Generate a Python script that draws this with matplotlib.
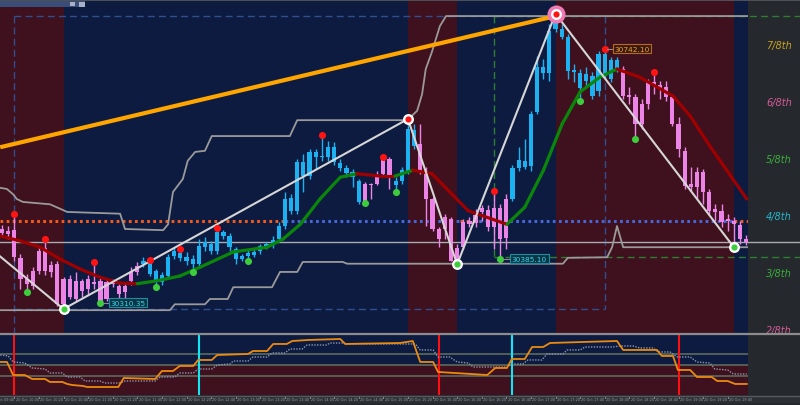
import matplotlib.pyplot as plt
from matplotlib.patches import Rectangle
from matplotlib.lines import Line2D
from matplotlib.transforms import blended_transform_factory

# ---- M5 candles, 20 Oct (bar 0 = 09:50) ----
opens = [30436, 30433, 30434, 30387, 30351, 30365, 30399, 30404, 30375, 30377,
         30351, 30351, 30348, 30348, 30351, 30346, 30348, 30346, 30348, 30339,
         30339, 30363, 30373, 30377, 30360, 30348, 30346, 30356, 30390, 30387,
         30382, 30377, 30377, 30405, 30399, 30399, 30424, 30405, 30385, 30385,
         30390, 30392, 30399, 30407, 30409, 30419, 30441, 30467, 30467, 30526,
         30526, 30558, 30558, 30558, 30550, 30540, 30531, 30524, 30482, 30513,
         30513, 30526, 30555, 30555, 30511, 30518, 30535, 30577, 30581, 30535,
         30487, 30436, 30456, 30453, 30404, 30448, 30450, 30460, 30472, 30468,
         30472, 30472, 30487, 30487, 30540, 30541, 30543, 30635, 30701, 30701,
         30776, 30762, 30705, 30703, 30676, 30688, 30662, 30671, 30696, 30691,
         30708, 30708, 30664, 30660, 30649, 30686, 30686, 30681, 30677, 30660,
         30615, 30569, 30513, 30533, 30533, 30499, 30470, 30467, 30453, 30450,
         30443, 30419]
closes = [30429, 30428, 30388, 30351, 30343, 30339, 30365, 30365, 30363, 30309,
          30309, 30320, 30317, 30331, 30334, 30343, 30314, 30317, 30343, 30326,
          30329, 30348, 30363, 30382, 30380, 30365, 30358, 30388, 30399, 30395,
          30388, 30385, 30407, 30414, 30411, 30431, 30431, 30424, 30402, 30390,
          30395, 30397, 30407, 30411, 30417, 30441, 30487, 30489, 30550, 30550,
          30567, 30567, 30560, 30575, 30575, 30548, 30540, 30533, 30518, 30482,
          30511, 30513, 30530, 30526, 30518, 30536, 30606, 30604, 30535, 30487,
          30436, 30419, 30436, 30382, 30385, 30405, 30444, 30446, 30465, 30439,
          30439, 30419, 30421, 30540, 30553, 30552, 30632, 30711, 30711, 30773,
          30796, 30776, 30762, 30706, 30701, 30700, 30696, 30734, 30734, 30723,
          30723, 30662, 30660, 30615, 30615, 30649, 30681, 30674, 30660, 30615,
          30572, 30509, 30507, 30507, 30499, 30467, 30465, 30448, 30450, 30444,
          30419, 30414]
highs = [30443, 30441, 30462, 30394, 30360, 30371, 30407, 30419, 30382, 30382,
         30354, 30358, 30363, 30351, 30358, 30380, 30354, 30351, 30351, 30344,
         30344, 30371, 30380, 30388, 30383, 30368, 30363, 30394, 30405, 30402,
         30397, 30392, 30419, 30422, 30416, 30438, 30434, 30429, 30405, 30394,
         30402, 30402, 30411, 30414, 30424, 30448, 30499, 30496, 30555, 30564,
         30572, 30572, 30596, 30586, 30584, 30555, 30545, 30538, 30521, 30516,
         30514, 30535, 30558, 30558, 30524, 30541, 30623, 30615, 30615, 30541,
         30490, 30439, 30462, 30456, 30411, 30453, 30456, 30470, 30477, 30477,
         30501, 30479, 30496, 30545, 30575, 30589, 30637, 30730, 30725, 30785,
         30802, 30785, 30768, 30717, 30708, 30711, 30703, 30739, 30742.1, 30728,
         30728, 30713, 30677, 30666, 30657, 30691, 30703, 30688, 30688, 30666,
         30626, 30575, 30541, 30541, 30538, 30504, 30479, 30479, 30462, 30456,
         30450, 30426]
lows = [30422, 30419, 30382, 30334, 30329, 30334, 30360, 30358, 30354, 30305,
        30300, 30317, 30314, 30320, 30324, 30334, 30310.35, 30314, 30337, 30317,
        30317, 30341, 30358, 30371, 30356, 30337, 30341, 30351, 30385, 30382,
        30375, 30363, 30371, 30399, 30394, 30394, 30419, 30399, 30377, 30382,
        30382, 30388, 30394, 30402, 30404, 30414, 30436, 30462, 30462, 30499,
        30521, 30538, 30552, 30552, 30545, 30535, 30524, 30507, 30478, 30480,
        30487, 30511, 30526, 30504, 30499, 30513, 30530, 30572, 30530, 30441,
        30433, 30405, 30419, 30382, 30376, 30402, 30439, 30439, 30450, 30433,
        30402, 30385.1, 30402, 30484, 30535, 30538, 30535, 30632, 30691, 30688,
        30771, 30759, 30691, 30686, 30654, 30677, 30657, 30662, 30691, 30686,
        30703, 30657, 30649, 30589, 30606, 30640, 30666, 30657, 30654, 30611,
        30558, 30504, 30501, 30487, 30478, 30462, 30450, 30439, 30433, 30405,
        30410, 30409]

fractal_up = [2, 7, 15, 24, 29, 35, 52, 62, 80, 98, 106]
fractal_dn = [4, 16, 25, 31, 40, 59, 64, 81, 94, 103]
swing_bars = [10, 66, 74, 90, 119]

# zigzag (bar, price), first point is off-chart
zz_x = [-8, 10, 66, 74, 90, 119]
zz_y = [30456, 30300, 30623, 30376, 30802, 30405]

# moving average knots
ma_x = [-0.3, 2.9, 6.2, 9.4, 12.7, 15.9, 19.2, 22.0, 25.2, 28.9, 32.2, 37.6, 43.1,
        45.7, 48.5, 51.7, 55.0, 57.7, 61.5, 63.9, 66.8, 69.9, 75.8, 82.1, 85.0,
        88.0, 91.1, 94.0, 97.2, 100.0, 103.7, 109.1, 111.9, 115.1, 121.1]
ma_y = [30424, 30416, 30405, 30385, 30368, 30354, 30344, 30343, 30348, 30356, 30371,
        30397, 30405, 30419, 30444, 30487, 30524, 30530, 30526, 30526, 30536, 30530,
        30467, 30444, 30473, 30535, 30615, 30669, 30694, 30708, 30694, 30662, 30628,
        30577, 30487]

# price channel
up_x = [-0.3, 0.8, 1.8, 2.4, 3.4, 7.8, 10.6, 19.2, 20.0, 26.2, 27.0, 27.8, 29.4,
        30.2, 31.4, 33.0, 34.1, 46.8, 48.0, 65.9, 67.5, 68.3, 68.9, 69.9, 71.2,
        72.2, 121.3]
up_y = [30506, 30504, 30495, 30487, 30482, 30478, 30465, 30462, 30436, 30434, 30444,
        30499, 30521, 30552, 30567, 30569, 30594, 30594, 30621, 30621, 30637, 30665,
        30708, 30737, 30781, 30798, 30798]
dn_x = [-0.3, 27.3, 28.1, 33.0, 33.8, 36.7, 37.6, 43.9, 45.2, 48.0, 48.9, 55.4,
        56.1, 91.2, 92.0, 98.4, 99.2, 100.0, 101.0, 121.3]
dn_y = [30298, 30298, 30308, 30308, 30317, 30317, 30337, 30337, 30363, 30363, 30380,
        30380, 30377, 30377, 30387, 30388, 30405, 30441, 30405, 30405]

trend_x = [-0.3, 90]
trend_y = [30575, 30798]

bid = 30414
mid_level = 30450
murrey_names = ['2/8th', '3/8th', '4/8th', '5/8th', '6/8th', '7/8th']
murrey_levels = [30256, 30353, 30450, 30547, 30644, 30741]
murrey_colors = ['#d65c98', '#3cae3c', '#25b6cc', '#3cae3c', '#d65c98', '#c9a227']

# lower oscillator
osc_x = [-0.3, 0.8, 1.8, 3.7, 4.9, 7.0, 7.8, 9.8, 10.6, 11.4, 13.2, 13.8, 18.9,
         19.8, 24.9, 26.0, 27.8, 28.9, 31.1, 31.9, 34.1, 35.0, 40.0, 40.8, 43.1,
         44.1, 46.3, 47.2, 49.8, 55.0, 55.8, 64.7, 66.8, 68.0, 70.1, 70.9, 78.9,
         80.2, 82.1, 82.9, 85.0, 86.2, 88.0, 89.1, 94.5, 100.0, 101.0, 106.5, 107.3,
         109.1, 109.9, 111.9, 113.0, 115.4, 116.3, 118.0, 119.2, 121.1]
osc_y = [55.3, 55.3, 32.5, 32.5, 25.5, 25.5, 20.3, 20.3, 16.8, 15.0, 13.3, 11.5, 11.5,
         27.3, 25.5, 39.5, 39.5, 48.3, 48.3, 58.8, 58.8, 67.5, 69.3, 74.5, 74.5,
         86.8, 86.8, 92.0, 93.8, 95.5, 86.8, 88.5, 92.0, 55.3, 55.3, 37.8, 32.5,
         44.8, 44.8, 60.5, 60.5, 81.5, 81.5, 88.5, 90.3, 92.0, 76.3, 76.3, 65.8,
         65.8, 41.3, 41.3, 29.0, 29.0, 22.0, 22.0, 16.8, 16.8]
sig_x = [-0.3, 1.0, 1.8, 3.7, 4.9, 7.0, 7.8, 9.8, 10.6, 12.7, 13.5, 15.9, 16.7, 19.2,
         20.0, 24.9, 25.7, 28.1, 28.9, 31.1, 31.9, 34.1, 35.0, 37.1, 37.6, 40.0,
         40.8, 43.1, 43.9, 46.0, 46.8, 48.8, 49.6, 52.8, 53.3, 55.4, 56.1, 67.2,
         68.0, 70.1, 70.9, 72.8, 74.0, 75.8, 76.6, 82.1, 82.9, 84.7, 85.5, 87.8,
         88.6, 91.2, 91.9, 94.0, 94.8, 99.3, 100.5, 102.6, 103.7, 105.9, 106.7,
         108.6, 109.8, 111.9, 113.0, 115.1, 115.9, 118.0, 118.9, 121.1]
sig_y = [67.5, 65.8, 55.3, 53.5, 44.8, 43.0, 36.0, 36.0, 29.0, 29.0, 22.0, 22.0, 18.5,
         18.5, 22.0, 22.0, 29.0, 29.0, 36.0, 36.0, 43.0, 43.0, 50.0, 51.8, 57.0,
         57.0, 64.0, 64.0, 71.0, 71.0, 78.0, 78.0, 85.0, 85.0, 88.5, 88.5, 86.8,
         86.8, 76.3, 76.3, 64.0, 64.0, 55.3, 53.5, 46.5, 46.5, 51.8, 51.8, 58.8,
         58.8, 69.3, 69.3, 76.3, 76.3, 81.5, 81.5, 83.3, 83.3, 79.8, 79.8, 72.8,
         72.8, 64.0, 64.0, 55.3, 53.5, 43.0, 41.3, 34.3, 34.3]
sell_bars = [2, 71, 110]
buy_bars = [32, 83]

time_labels = ['20 Oct 09:40', '20 Oct 10:00', '20 Oct 10:20', '20 Oct 10:40',
               '20 Oct 11:00', '20 Oct 11:20', '20 Oct 11:40', '20 Oct 12:00',
               '20 Oct 12:20', '20 Oct 12:40', '20 Oct 13:00', '20 Oct 13:20',
               '20 Oct 13:40', '20 Oct 14:00', '20 Oct 14:20', '20 Oct 14:40',
               '20 Oct 15:00', '20 Oct 15:20', '20 Oct 15:40', '20 Oct 16:00',
               '20 Oct 16:20', '20 Oct 16:40', '20 Oct 17:00', '20 Oct 17:20',
               '20 Oct 17:40', '20 Oct 18:00', '20 Oct 18:20', '20 Oct 18:40',
               '20 Oct 19:00', '20 Oct 19:20', '20 Oct 19:40']
time_bars = list(range(-2, 119, 4))

NAVY = '#0d1b40'
MAROON = '#3f101d'
BULL = '#1cb2f2'
BEAR = '#ec84e8'

W, H = 800, 406
fig = plt.figure(figsize=(8, 4.06), dpi=100)
fig.patch.set_facecolor('#25282c')


def add_ax(x0, y0, x1, y1):
    a = fig.add_axes([x0 / W, 1 - y1 / H, (x1 - x0) / W, (y1 - y0) / H])
    a.set_axis_off()
    return a


ax = add_ax(0, 2, 748, 335)
ax2 = add_ax(0, 336, 748, 396)
XMIN, XMAX, XEDGE = -0.33, 121.3, 130
ax.set_xlim(XMIN, XMAX)
ax.set_ylim(30257.5, 30823.6)
ax2.set_xlim(XMIN, XMAX)
ax2.set_ylim(-2.5, 102.5)

# trend background
edges = [XMIN - 1] + swing_bars + [XMAX + 1]
for k in range(len(edges) - 1):
    ax.axvspan(edges[k], edges[k + 1], color=MAROON if k % 2 == 0 else NAVY, lw=0, zorder=0)

# dashed box and fib lines
box = dict(color='#2f4f8f', lw=1, dashes=(5, 3), zorder=1)
ax.plot([2, 98], [30798, 30798], **box)
ax.plot([2, 2], [30798, 30257.5], **box)
ax.plot([2, 98], [30300, 30300], **box)
ax.plot([98, 98], [30798, 30300], **box)
grn = dict(color='#2e7d32', lw=1, dashes=(5, 3), zorder=1, clip_on=False)
ax.plot([80, XEDGE], [30798, 30798], **grn)
ax.plot([80, XEDGE], [30388, 30388], **grn)
ax.plot([80, 80], [30798, 30388], **grn)

# bid line
ax.plot([XMIN, XEDGE], [bid, bid], color='#a9adb2', lw=1, zorder=1.5, clip_on=False)

# middle level dotted, coloured by side
seg = [(XMIN, 46, '#f25a1c'), (46, 74.5, '#4766d8'), (74.5, 77.5, '#f25a1c'),
       (77.5, 119, '#4766d8'), (119, XMAX, '#f25a1c')]
for a, b, c in seg:
    ax.plot([a, b], [mid_level, mid_level], color=c, lw=2.2, ls=(0, (0.9, 1.1)), zorder=1.6)

# price channel
ax.plot(up_x, up_y, color='#9a9a9a', lw=1.3, zorder=2)
ax.plot(dn_x, dn_y, color='#9a9a9a', lw=1.3, zorder=2)

# trend line
ax.plot(trend_x, trend_y, color='#ffa500', lw=3, zorder=2.5, solid_capstyle='butt')

# candles
idx = list(range(len(opens)))
cols = [BULL if c >= o else BEAR for o, c in zip(opens, closes)]
ax.vlines(idx, lows, highs, colors=cols, lw=1, zorder=3)
bottoms = [min(o, c) for o, c in zip(opens, closes)]
heights = [max(abs(c - o), 1.7) for o, c in zip(opens, closes)]
ax.bar(idx, heights, bottom=bottoms, width=0.68, color=cols, lw=0, zorder=3)

# moving average, green when rising, red when falling
for k in range(len(ma_x) - 1):
    c = '#0a870a' if ma_y[k + 1] > ma_y[k] else '#a00000'
    ax.plot(ma_x[k:k + 2], ma_y[k:k + 2], color=c, lw=2.3, zorder=4, solid_capstyle='round')

# zigzag
ax.plot(zz_x, zz_y, color='#d6d6d6', lw=1.5, zorder=4.5)

# fractals
ax.scatter(fractal_up, [highs[i] for i in fractal_up], s=26, color='#ff1414', zorder=5, lw=0)
ax.scatter(fractal_dn, [lows[i] for i in fractal_dn], s=26, color='#3ccc3c', zorder=5, lw=0)

# swing circles
for n, i in enumerate(swing_bars):
    top = n % 2 == 1
    p = highs[i] if top else lows[i]
    if i == 90:
        ax.scatter([i], [p], s=170, color='#f07ab4', zorder=6, lw=0)
    ax.scatter([i], [p], s=62, color='white', zorder=6.1, lw=0)
    ax.scatter([i], [p], s=20, color='#ff1414' if top else '#3ccc3c', zorder=6.2, lw=0)

# value tags
tags = [(16, 17.7, 30310.35, '30310.35', '#2fd8ec', '#0c3445', '#1d8da0'),
        (81, 82.9, 30385.1, '30385.10', '#2fd8ec', '#0c3445', '#1d8da0'),
        (98, 99.6, 30742.1, '30742.10', '#f0a030', '#3a1a10', '#b86a20')]
for bar, tx, ty, txt, fc, bg, ec in tags:
    ax.plot([bar + 0.4, tx - 0.1], [ty, ty], color='#8a8a8a', lw=0.8, zorder=6)
    ax.text(tx, ty, txt, color=fc, fontsize=5.3, va='center', ha='left', zorder=7,
            bbox=dict(boxstyle='square,pad=0.2', fc=bg, ec=ec, lw=0.8))

# murrey labels on the right strip
tr = blended_transform_factory(fig.transFigure, ax.transData)
for name, lev, c in zip(murrey_names, murrey_levels, murrey_colors):
    ax.text(766 / W, lev + 8.5, name, transform=tr, color=c, fontsize=7,
            style='italic', va='center', ha='left', clip_on=False)

# lower panel
ax2.axhspan(50, 102.5, color=NAVY, lw=0, zorder=0)
ax2.axhspan(-2.5, 50, color=MAROON, lw=0, zorder=0)
for lv in [70, 50, 30]:
    ax2.axhline(lv, color='#5c6b5c', lw=1.2, zorder=1)
for b in sell_bars:
    ax2.axvline(b, color='#ff1010', lw=1.5, zorder=2)
for b in buy_bars:
    ax2.axvline(b, color='#10e6f5', lw=1.5, zorder=2)
ax2.plot(sig_x, sig_y, color='#8c95ab', lw=1, ls=(0, (1, 1)), zorder=3)
ax2.plot(osc_x, osc_y, color='#ea8a10', lw=1.3, zorder=4)

# frame lines
for yy, c, w in [(335, '#8c8c8c', 1.6), (396.5, '#55595e', 1)]:
    fig.add_artist(Line2D([0, 1], [1 - yy / H] * 2, color=c, lw=w))

# time axis strip
fig.add_artist(Rectangle((0, 1 - 404 / H), 1, 7 / H, color='#2c3034', lw=0, zorder=0))
trx = blended_transform_factory(ax.transData, fig.transFigure)
for b, lab in zip(time_bars, time_labels):
    ax.text(b + 0.2, 1 - 400 / H, lab, transform=trx, fontsize=2.5, color='#9aa0a6',
            va='center', ha='left', clip_on=False)
    ax.plot([b, b], [1 - 397 / H, 1 - 399 / H], transform=trx, color='#9aa0a6',
            lw=0.6, clip_on=False)

# top bar and toolbar
fig.add_artist(Rectangle((0, 1 - 2 / H), 1, 2 / H, color='#4d5156', lw=0))
fig.add_artist(Rectangle((0, 1 - 8 / H), 85 / W, 6 / H, color='#3a4d78', lw=0))
fig.add_artist(Rectangle((70 / W, 1 - 7 / H), 5 / W, 4 / H, color='#a6b0c8', lw=0))
fig.add_artist(Rectangle((79 / W, 1 - 7.5 / H), 6 / W, 5 / H, color='#a6b0c8', lw=0))

fig.savefig('out.png', dpi=100, facecolor=fig.get_facecolor())
